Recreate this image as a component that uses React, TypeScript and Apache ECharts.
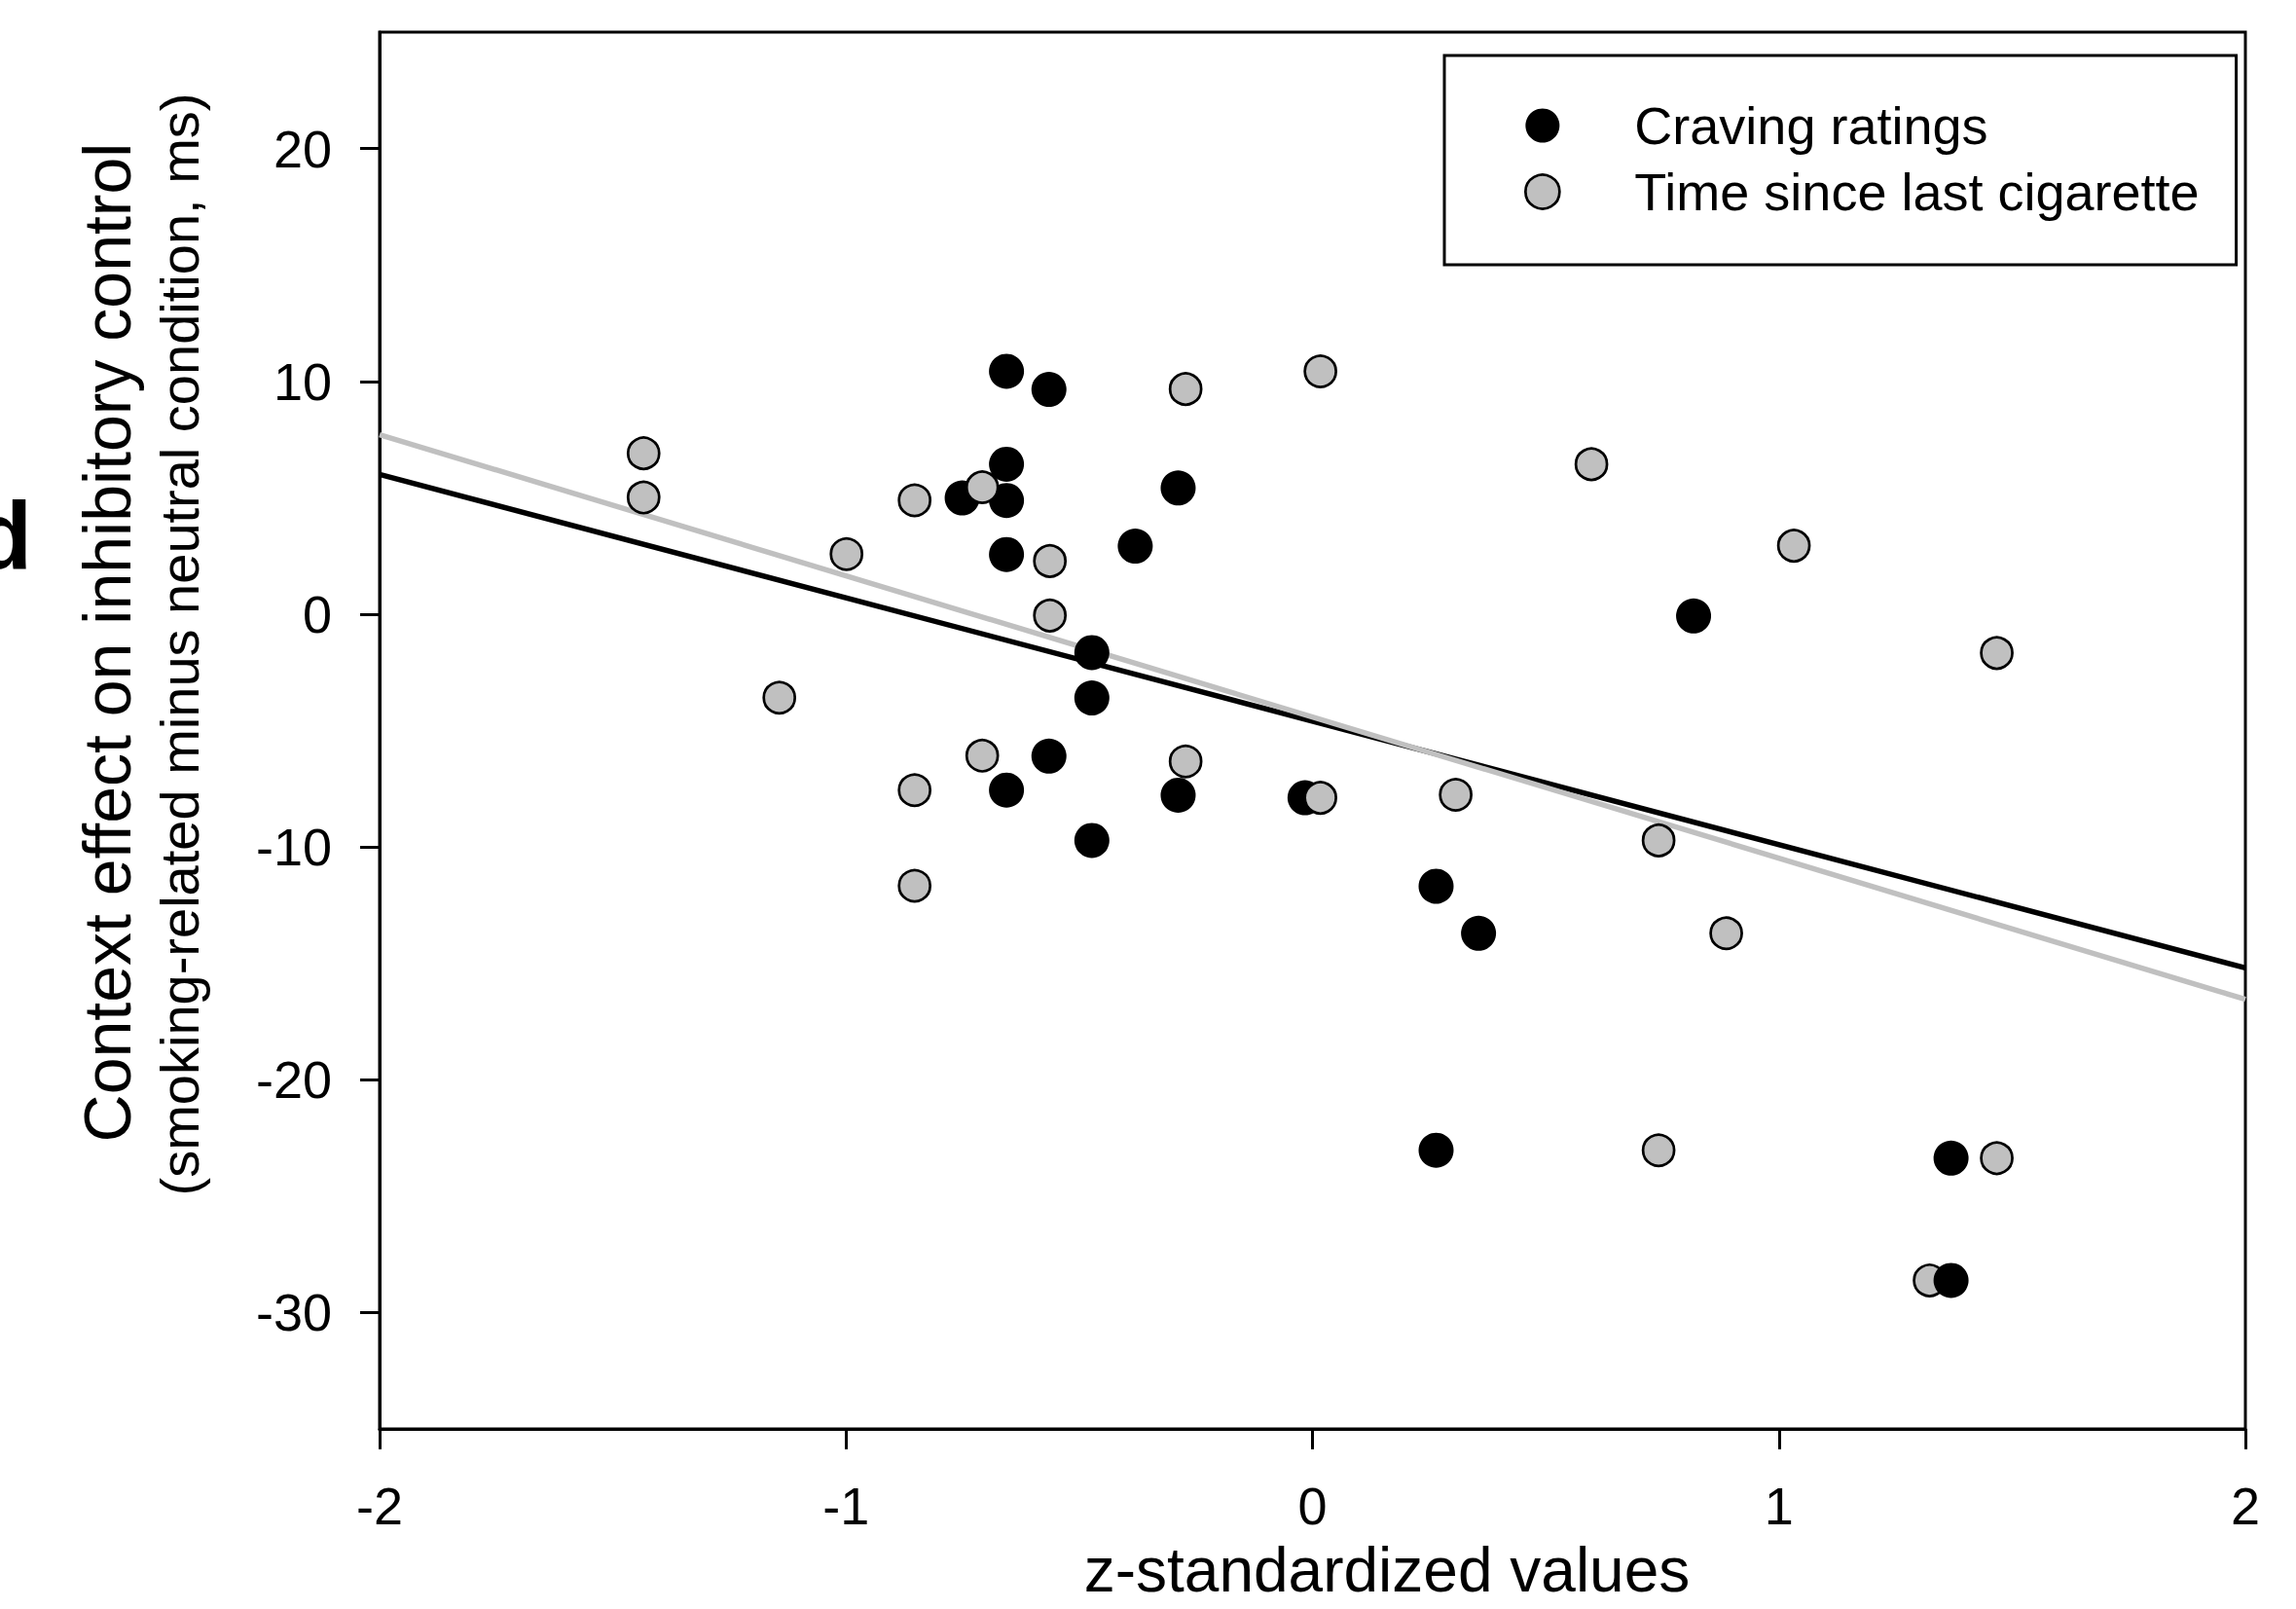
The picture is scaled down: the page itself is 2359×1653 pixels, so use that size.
import React, { useEffect, useRef } from "react";
import * as echarts from "echarts";

// ---- data ----
const cravingX = [-0.656, -0.565, -0.656, -0.751, -0.656, -0.288, -0.38, -0.656, -0.473, -0.473, -0.565, -0.656, -0.288, -0.016, -0.473, 0.817, 0.265, 0.356, 0.265, 1.369, 1.369];
const cravingY = [10.43, 9.65, 6.44, 4.99, 4.88, 5.42, 2.92, 2.56, -1.65, -3.6, -6.1, -7.56, -7.78, -7.89, -9.72, -0.08, -11.69, -13.71, -23.03, -23.37, -28.62];
// craving points that are drawn in front of the grey points
const cravingFrontIndex = [20];

const timeX = [-1.434, -1.434, -0.999, -1.143, -0.853, -0.708, -0.563, -0.563, -0.708, -0.853, -0.853, -0.272, 0.017, -0.272, 0.017, 0.307, 0.598, 1.032, 0.742, 0.887, 1.467, 0.742, 1.467, 1.323];
const timeY = [6.91, 5.01, 2.58, -3.59, 4.89, 5.45, 2.28, -0.06, -6.08, -7.56, -11.67, 9.67, 10.43, -6.33, -7.89, -7.76, 6.44, 2.94, -9.72, -13.71, -1.67, -23.03, -23.37, -28.62];

// regression lines (endpoints at the axis limits)
const fitX = [-2, 2];
const cravingFitY = [6.0, -15.2];
const timeFitY = [7.71, -16.55];

const xTicks = [-2, -1, 0, 1, 2];
const yTicks = [-30, -20, -10, 0, 10, 20];

const seriesNames = ["Craving ratings", "Time since last cigarette"];
const xTitle = "z-standardized values";
const yTitle = "Context effect on inhibitory control";
const ySubtitle = "(smoking-related minus neutral condition, ms)";
const panelLabel = "d";

const FONT = "'Liberation Sans', Arial, Helvetica, sans-serif";
const GREY = "#c0c0c0";

export default function App() {
  const ref = useRef<HTMLDivElement>(null);

  useEffect(() => {
    if (!ref.current) return;
    const chart = echarts.init(ref.current, undefined, { renderer: "svg" });

    const pairs = (xs: number[], ys: number[]) => xs.map((x, i) => [x, ys[i]]);
    const cravingAll = pairs(cravingX, cravingY);
    const cravingBack = cravingAll.filter((_, i) => !cravingFrontIndex.includes(i));
    const cravingFront = cravingAll.filter((_, i) => cravingFrontIndex.includes(i));

    const option: any = {
      animation: false,
      backgroundColor: "#fff",
      textStyle: { fontFamily: FONT, color: "#000" },
      grid: {
        left: 390,
        top: 33,
        width: 1917,
        height: 1435,
        show: true,
        borderColor: "#000",
        borderWidth: 3,
        backgroundColor: "transparent",
      },
      xAxis: {
        type: "value",
        min: xTicks[0],
        max: xTicks[xTicks.length - 1],
        interval: 1,
        axisLine: { onZero: false, lineStyle: { color: "#000", width: 3 } },
        axisTick: { show: true, inside: false, length: 21, lineStyle: { color: "#000", width: 3 } },
        axisLabel: { fontSize: 54, fontFamily: FONT, color: "#000", margin: 52 },
        splitLine: { show: false },
      },
      yAxis: {
        type: "value",
        min: -35,
        max: 25,
        axisLine: { onZero: false, lineStyle: { color: "#000", width: 3 } },
        axisTick: { show: true, inside: false, length: 20, customValues: yTicks, lineStyle: { color: "#000", width: 3 } },
        axisLabel: { fontSize: 54, fontFamily: FONT, color: "#000", margin: 49, customValues: yTicks },
        splitLine: { show: false },
      },
      legend: {
        orient: "vertical",
        left: 1484,
        top: 57,
        itemWidth: 35,
        itemHeight: 35,
        itemGap: 14,
        padding: [45, 38, 48, 82],
        borderColor: "#000",
        borderWidth: 3,
        backgroundColor: "#fff",
        selectedMode: false,
        textStyle: { fontSize: 54, fontFamily: FONT, color: "#000", padding: [0, 0, 0, 72] },
        data: [
          { name: seriesNames[0], icon: "circle", itemStyle: { color: "#000", borderWidth: 0 } },
          { name: seriesNames[1], icon: "circle", itemStyle: { color: GREY, borderColor: "#000", borderWidth: 2.7 } },
        ],
      },
      series: [
        {
          type: "line",
          name: "Craving fit",
          data: pairs(fitX, cravingFitY),
          showSymbol: false,
          symbol: "none",
          lineStyle: { color: "#000", width: 5.5 },
          z: 2,
        },
        {
          type: "line",
          name: "Time fit",
          data: pairs(fitX, timeFitY),
          showSymbol: false,
          symbol: "none",
          lineStyle: { color: GREY, width: 5.5 },
          z: 2,
        },
        {
          type: "scatter",
          name: seriesNames[0],
          data: cravingBack,
          symbol: "circle",
          symbolSize: 36,
          itemStyle: { color: "#000", opacity: 1 },
          z: 3,
        },
        {
          type: "scatter",
          name: seriesNames[1],
          data: pairs(timeX, timeY),
          symbol: "circle",
          symbolSize: 32,
          itemStyle: { color: GREY, borderColor: "#000", borderWidth: 2.7, opacity: 1 },
          z: 4,
        },
        {
          type: "scatter",
          name: seriesNames[0],
          data: cravingFront,
          symbol: "circle",
          symbolSize: 36,
          itemStyle: { color: "#000", opacity: 1 },
          z: 5,
        },
      ],
      graphic: [
        {
          type: "text",
          x: 110,
          y: 660,
          rotation: Math.PI / 2,
          style: { text: yTitle, fontSize: 68, fontFamily: FONT, fill: "#000", align: "center", verticalAlign: "middle" },
        },
        {
          type: "text",
          x: 184,
          y: 662,
          rotation: Math.PI / 2,
          style: { text: ySubtitle, fontSize: 56, fontFamily: FONT, fill: "#000", align: "center", verticalAlign: "middle" },
        },
        {
          type: "text",
          x: 1425,
          y: 1613,
          style: { text: xTitle, fontSize: 64, fontFamily: FONT, fill: "#000", align: "center", verticalAlign: "middle" },
        },
        {
          type: "text",
          x: 33,
          y: 550,
          style: { text: panelLabel, fontSize: 98, fontWeight: "bold", fontFamily: FONT, fill: "#000", align: "right", verticalAlign: "middle" },
        },
      ],
    };

    chart.setOption(option);
    return () => chart.dispose();
  }, []);

  return (
    <div
      ref={ref}
      style={{ position: "absolute", left: 0, top: 0, width: 2359, height: 1653, background: "#fff" }}
    />
  );
}
